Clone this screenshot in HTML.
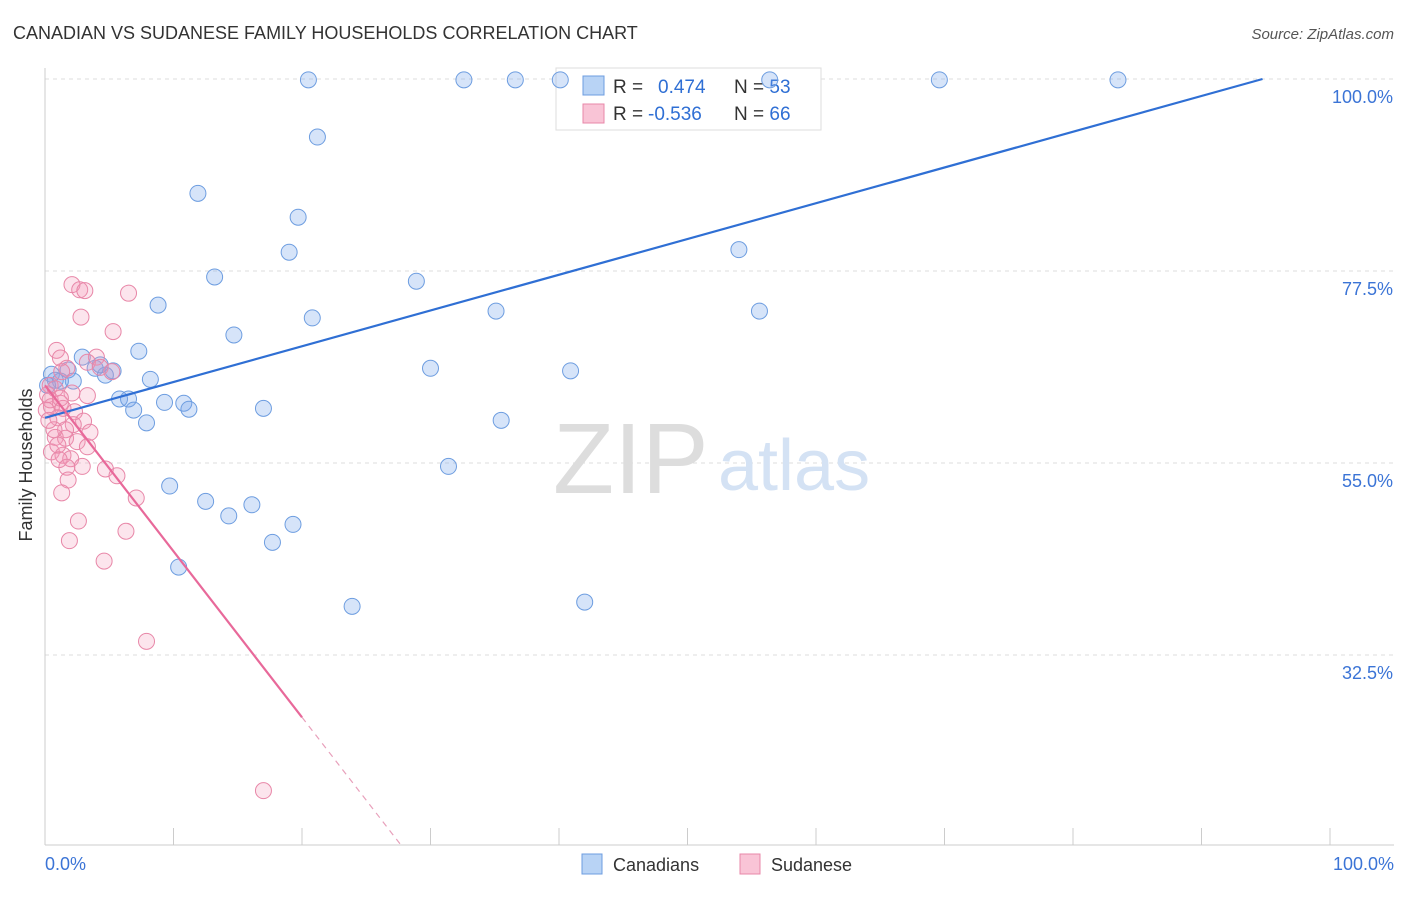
<!DOCTYPE html>
<html><head><meta charset="utf-8">
<style>
body{margin:0;background:#fff;font-family:"Liberation Sans",sans-serif;}
svg text{font-family:"Liberation Sans",sans-serif;}
</style></head>
<body>
<svg id="chart" width="1406" height="892" viewBox="0 0 1406 892">
<text x="13" y="39" font-size="18" fill="#333">CANADIAN VS SUDANESE FAMILY HOUSEHOLDS CORRELATION CHART</text>
<text x="1394" y="39" font-size="15" fill="#555" font-style="italic" text-anchor="end">Source: ZipAtlas.com</text>
<g id="grid"></g>
<g>
<text x="553" y="493" font-size="100" fill="#ddd" font-family="Liberation Serif">ZIP</text>
<text x="718" y="490" font-size="72" fill="#d4e2f4">atlas</text>
</g>
<g id="axes"></g>
<g>
<rect x="556" y="68" width="265" height="62" fill="#fff" stroke="#ddd"/>
<rect x="583" y="76" width="21" height="19" fill="#b8d3f5" stroke="#6d9de0"/>
<rect x="583" y="104" width="21" height="19" fill="#f9c4d6" stroke="#e887a8"/>
<text x="613" y="93" font-size="19" fill="#333">R = <tspan fill="#2f6fd4" x="658">0.474</tspan><tspan x="734" fill="#333">N = </tspan><tspan fill="#2f6fd4">53</tspan></text>
<text x="613" y="120" font-size="19" fill="#333">R = <tspan fill="#2f6fd4" x="648">-0.536</tspan><tspan x="734" fill="#333">N = </tspan><tspan fill="#2f6fd4">66</tspan></text>
</g>
<g id="pts-blue"></g>
<g id="pts-pink"></g>
<g id="trends"></g>
<text x="22" y="455" font-size="18" fill="#333" transform="rotate(-90 32 455)" text-anchor="middle">Family Households</text>
<g>
<rect x="582" y="854" width="20" height="20" fill="#b8d3f5" stroke="#6d9de0"/>
<text x="613" y="871" font-size="18" fill="#333">Canadians</text>
<rect x="740" y="854" width="20" height="20" fill="#f9c4d6" stroke="#e887a8"/>
<text x="771" y="871" font-size="18" fill="#333">Sudanese</text>
</g>
</svg>
<script>
const yTicks=[100,77.5,55,32.5];
const yTickLabels=["100.0%","77.5%","55.0%","32.5%"];
const xTicks=[0,10,20,30,40,50,60,70,80,90,100];
const blueX=[20.5,32.6,36.6,40.1,56.4,69.6,83.5,21.2,11.9,19.7,19.0,54.0,13.2,28.9,8.8,20.8,35.1,55.6,14.7,7.3,2.9,3.9,1.8,5.3,4.7,0.5,30.0,40.9,8.2,2.2,1.2,5.8,6.5,9.3,10.8,11.2,17.0,6.9,7.9,35.5,31.4,9.7,12.5,16.1,14.3,19.3,17.7,10.4,23.9,42.0,0.8,0.2,4.3];
const blueY=[99.9,99.9,99.9,99.9,99.9,99.9,99.9,93.2,86.6,83.8,79.7,80.0,76.8,76.3,73.5,72.0,72.8,72.8,70.0,68.1,67.4,66.1,65.9,65.8,65.3,65.4,66.1,65.8,64.8,64.6,64.6,62.5,62.5,62.1,62.0,61.3,61.4,61.2,59.7,60.0,54.6,52.3,50.5,50.1,48.8,47.8,45.7,42.8,38.2,38.7,64.7,64.1,66.5];
const pinkX=[2.1,2.7,3.1,6.5,2.8,5.3,0.9,1.2,4.0,3.3,1.7,1.3,4.3,5.2,0.4,0.8,0.2,2.1,3.3,1.2,0.5,1.4,2.3,1.0,3.0,2.2,1.6,3.5,0.8,1.6,2.5,3.3,0.5,1.4,2.0,1.1,2.9,1.7,4.7,5.6,1.8,7.1,1.3,2.6,6.3,1.9,4.6,7.9,17.0,0.4,0.7,1.0,1.2,0.1,0.3];
const pinkY=[75.9,75.3,75.2,74.9,72.1,70.4,68.2,67.3,67.4,66.8,66.1,65.7,66.2,65.7,64.1,63.7,63.0,63.2,62.9,62.0,61.6,61.4,61.0,60.3,59.9,59.5,58.9,58.6,58.0,57.9,57.5,56.9,56.3,55.9,55.5,55.4,54.6,54.5,54.3,53.5,53.0,50.9,51.5,48.2,47.0,45.9,43.5,34.1,16.6,62.4,58.9,57.1,62.6,61.2,60.0];
const blueTrend=[60.3,0.419];
const pinkTrend=[64.1,-1.945];
const pinkSolidEnd=20;
const NS="http://www.w3.org/2000/svg";
const X=v=>45+v*12.85;
const Y=v=>79+(100-v)*8.533;
function mk(tag,attrs,parent){const e=document.createElementNS(NS,tag);for(const k in attrs)e.setAttribute(k,attrs[k]);document.getElementById(parent).appendChild(e);return e;}
yTicks.forEach((t,i)=>{
 const l=mk('line',{x1:45,x2:1394,y1:Y(t),y2:Y(t),stroke:'#ddd','stroke-dasharray':'4 4'},'grid');
 
 
 const tx=mk('text',{x:1393,y:Y(t)+24,'font-size':18,fill:'#3b74d6','text-anchor':'end'},'grid');
 tx.textContent=yTickLabels[i];
 
 
});
const ax=mk('line',{x1:45,x2:45,y1:68,y2:845,stroke:'#ccc'},'axes');


const bx=mk('line',{x1:45,x2:1394,y1:845,y2:845,stroke:'#ccc'},'axes');


xTicks.forEach(t=>{
 const l=mk('line',{x1:X(t),x2:X(t),y1:828,y2:845,stroke:'#ccc'},'axes');
 
 
});
const xl0=mk('text',{x:45,y:870,'font-size':18,fill:'#3b74d6'},'axes');xl0.textContent='0.0%';


const xl1=mk('text',{x:1394,y:870,'font-size':18,fill:'#3b74d6','text-anchor':'end'},'axes');xl1.textContent='100.0%';


blueX.forEach((v,i)=>{
 const c=mk('circle',{cx:X(v),cy:Y(blueY[i]),r:8,fill:'rgba(120,165,235,0.3)',stroke:'#6d9de0','stroke-width':1},'pts-blue');
 
 
});
pinkX.forEach((v,i)=>{
 const c=mk('circle',{cx:X(v),cy:Y(pinkY[i]),r:8,fill:'rgba(245,150,185,0.25)',stroke:'#e887a8','stroke-width':1},'pts-pink');
 
 
});
const bEnd=(100-blueTrend[0])/blueTrend[1];
const bl=mk('line',{x1:X(0),y1:Y(blueTrend[0]),x2:X(bEnd),y2:Y(100),stroke:'#2f6fd4','stroke-width':2.2},'trends');


const pf=x=>pinkTrend[0]+pinkTrend[1]*x;
const pl=mk('line',{x1:X(0),y1:Y(pf(0)),x2:X(pinkSolidEnd),y2:Y(pf(pinkSolidEnd)),stroke:'#e8699a','stroke-width':2.2},'trends');


const yBottom=100-(845-79)/8.533;
const pEnd=(yBottom-pinkTrend[0])/pinkTrend[1];
const pd=mk('line',{x1:X(pinkSolidEnd),y1:Y(pf(pinkSolidEnd)),x2:X(pEnd),y2:845,stroke:'#e8a0bb','stroke-width':1.2,'stroke-dasharray':'6 5'},'trends');


</script>
</body></html>
